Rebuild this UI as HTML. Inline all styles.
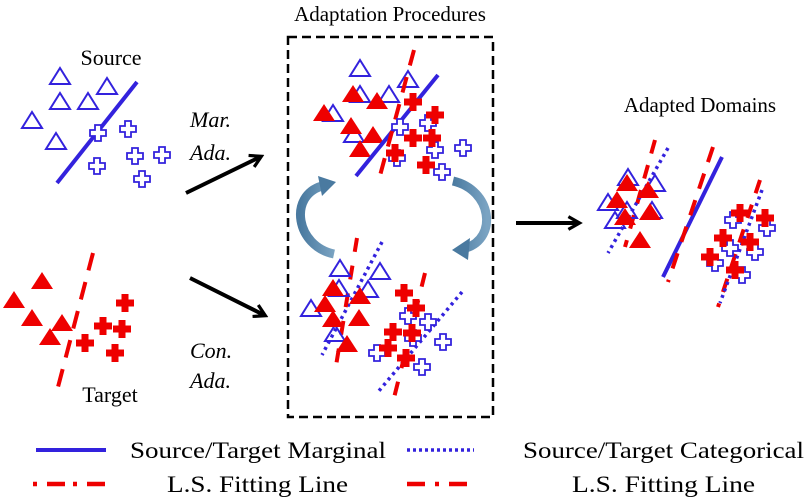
<!DOCTYPE html>
<html><head><meta charset="utf-8"><style>html,body{margin:0;padding:0;background:#fff}svg{display:block}</style></head>
<body>
<svg width="808" height="501" viewBox="0 0 808 501" xmlns="http://www.w3.org/2000/svg" font-family="Liberation Serif, serif">
<defs>
<g id="bt"><path d="M0,-8 L10,8 L-10,8 Z" fill="none" stroke="#3322dd" stroke-width="2"/></g>
<g id="rt"><path d="M0,-9 L11,8 L-11,8 Z" fill="#ee0000"/></g>
<g id="bc"><path d="M-3,-8 H3 V-3 H8 V3 H3 V8 H-3 V3 H-8 V-3 H-3 Z" fill="#fff" stroke="#3322dd" stroke-width="1.8"/></g>
<g id="rc"><path d="M-3.5,-9 H3.5 V-3.5 H9 V3.5 H3.5 V9 H-3.5 V3.5 H-9 V-3.5 H-3.5 Z" fill="#ee0000"/></g>
<marker id="ah" viewBox="0 0 10 10" refX="7" refY="5" markerWidth="4" markerHeight="4" orient="auto"><path d="M1,1 L8,5 L1,9" fill="none" stroke="#000" stroke-width="2"/></marker>
<linearGradient id="cg" x1="0" y1="0" x2="1" y2="0"><stop offset="0" stop-color="#4a7aa0"/><stop offset="1" stop-color="#7aa3c2"/></linearGradient>
</defs>

<!-- Source -->
<text x="111" y="65" font-size="22" text-anchor="middle">Source</text>
<use href="#bt" x="60" y="76"/><use href="#bt" x="107" y="86"/><use href="#bt" x="60" y="101"/><use href="#bt" x="88" y="101"/><use href="#bt" x="32" y="120"/><use href="#bt" x="56" y="141"/>
<line x1="137" y1="82" x2="57" y2="183" stroke="#3322dd" stroke-width="4"/>
<use href="#bc" x="98" y="133"/><use href="#bc" x="128" y="129"/><use href="#bc" x="135" y="156"/><use href="#bc" x="162" y="155"/><use href="#bc" x="97" y="166"/><use href="#bc" x="142" y="179"/>

<!-- Target -->
<use href="#rt" x="42" y="281"/><use href="#rt" x="14" y="300"/><use href="#rt" x="32" y="318"/><use href="#rt" x="62" y="323"/><use href="#rt" x="50" y="337"/>
<line x1="93" y1="253" x2="58" y2="387" stroke="#ee0000" stroke-width="4" stroke-dasharray="18,12"/>
<use href="#rc" x="125" y="303"/><use href="#rc" x="103" y="326"/><use href="#rc" x="122" y="329"/><use href="#rc" x="85" y="343"/><use href="#rc" x="115" y="353"/>
<text x="110" y="402" font-size="22" text-anchor="middle">Target</text>

<!-- arrows & labels -->
<text x="190" y="127" font-size="22" font-style="italic">Mar.</text>
<text x="190" y="160" font-size="22" font-style="italic">Ada.</text>
<line x1="186" y1="193" x2="260" y2="157" stroke="#000" stroke-width="4" marker-end="url(#ah)"/>
<line x1="190" y1="278" x2="264" y2="315" stroke="#000" stroke-width="4" marker-end="url(#ah)"/>
<text x="190" y="358" font-size="22" font-style="italic">Con.</text>
<text x="190" y="388" font-size="22" font-style="italic">Ada.</text>

<!-- middle box -->
<text x="390" y="21" font-size="21" text-anchor="middle">Adaptation Procedures</text>
<rect x="288" y="37" width="205" height="380" fill="none" stroke="#000" stroke-width="2.5" stroke-dasharray="9,5"/>

<use href="#bt" x="360" y="68"/><use href="#bt" x="408" y="79"/><use href="#bt" x="360" y="94"/><use href="#bt" x="389" y="94"/><use href="#bt" x="333" y="113"/><use href="#bt" x="354" y="134"/>
<use href="#rt" x="353" y="94"/><use href="#rt" x="377" y="101"/><use href="#rt" x="324" y="113"/><use href="#rt" x="351" y="126"/><use href="#rt" x="373" y="135"/><use href="#rt" x="360" y="149"/>
<line x1="438" y1="75" x2="356" y2="176" stroke="#3322dd" stroke-width="4"/>
<line x1="414" y1="50" x2="378" y2="183" stroke="#ee0000" stroke-width="4" stroke-dasharray="16,12"/>
<use href="#bc" x="400" y="127"/><use href="#bc" x="428" y="123"/><use href="#bc" x="435" y="150"/><use href="#bc" x="463" y="148"/><use href="#bc" x="397" y="158"/><use href="#bc" x="442" y="172"/>
<use href="#rc" x="413" y="102"/><use href="#rc" x="435" y="115"/><use href="#rc" x="413" y="138"/><use href="#rc" x="432" y="138"/><use href="#rc" x="395" y="153"/><use href="#rc" x="426" y="165"/>

<!-- cycle arrows -->
<path d="M334,254 C296,246 288,196 322,186" fill="none" stroke="url(#cg)" stroke-width="9"/>
<path d="M318,176 L336,182 L322,196 Z" fill="#4a7aa0"/>
<path d="M453,181 C492,190 498,238 466,248" fill="none" stroke="url(#cg)" stroke-width="9"/>
<path d="M470,238 L452,250 L468,260 Z" fill="#4a7aa0"/>

<!-- bottom cluster -->
<line x1="382" y1="242" x2="322" y2="355" stroke="#3322dd" stroke-width="3.5" stroke-dasharray="3,4"/>
<line x1="357" y1="238" x2="335" y2="372" stroke="#ee0000" stroke-width="4" stroke-dasharray="14,14"/>
<use href="#bt" x="340" y="268"/><use href="#bt" x="380" y="271"/><use href="#bt" x="368" y="289"/><use href="#bt" x="311" y="308"/><use href="#bt" x="335" y="333"/><use href="#bt" x="339" y="288"/>
<use href="#rt" x="333" y="288"/><use href="#rt" x="360" y="296"/><use href="#rt" x="325" y="304"/><use href="#rt" x="333" y="319"/><use href="#rt" x="359" y="318"/><use href="#rt" x="347" y="344"/>
<line x1="462" y1="292" x2="378" y2="392" stroke="#3322dd" stroke-width="3.5" stroke-dasharray="3,4"/>
<line x1="425" y1="273" x2="393" y2="402" stroke="#ee0000" stroke-width="4" stroke-dasharray="14,14"/>
<use href="#bc" x="408" y="316"/><use href="#bc" x="428" y="322"/><use href="#bc" x="413" y="338"/><use href="#bc" x="443" y="342"/><use href="#bc" x="377" y="353"/><use href="#bc" x="422" y="367"/>
<use href="#rc" x="404" y="293"/><use href="#rc" x="416" y="308"/><use href="#rc" x="393" y="332"/><use href="#rc" x="412" y="333"/><use href="#rc" x="388" y="348"/><use href="#rc" x="406" y="358"/>

<!-- big arrow -->
<line x1="516" y1="223" x2="578" y2="223" stroke="#000" stroke-width="4" marker-end="url(#ah)"/>

<!-- adapted -->
<text x="700" y="112" font-size="21" text-anchor="middle">Adapted Domains</text>
<line x1="655" y1="140" x2="625" y2="247" stroke="#ee0000" stroke-width="4" stroke-dasharray="14,12"/>
<line x1="668" y1="148" x2="608" y2="253" stroke="#3322dd" stroke-width="3.5" stroke-dasharray="3,4"/>
<use href="#bt" x="628" y="177"/><use href="#bt" x="655" y="183"/><use href="#bt" x="608" y="202"/><use href="#bt" x="627" y="210"/><use href="#bt" x="615" y="220"/><use href="#bt" x="652" y="210"/>
<use href="#rt" x="627" y="183"/><use href="#rt" x="648" y="190"/><use href="#rt" x="617" y="200"/><use href="#rt" x="650" y="212"/><use href="#rt" x="625" y="217"/><use href="#rt" x="640" y="240"/>
<line x1="722" y1="157" x2="663" y2="277" stroke="#3322dd" stroke-width="4"/>
<line x1="713" y1="147" x2="668" y2="282" stroke="#ee0000" stroke-width="4" stroke-dasharray="16,12"/>
<line x1="760" y1="180" x2="718" y2="307" stroke="#ee0000" stroke-width="4" stroke-dasharray="14,12"/>
<line x1="762" y1="190" x2="720" y2="303" stroke="#3322dd" stroke-width="3.5" stroke-dasharray="3,4"/>
<use href="#bc" x="733" y="220"/><use href="#bc" x="767" y="228"/><use href="#bc" x="730" y="248"/><use href="#bc" x="755" y="252"/><use href="#bc" x="715" y="263"/><use href="#bc" x="742" y="275"/>
<use href="#rc" x="740" y="213"/><use href="#rc" x="765" y="218"/><use href="#rc" x="723" y="238"/><use href="#rc" x="750" y="242"/><use href="#rc" x="710" y="257"/><use href="#rc" x="735" y="270"/>

<!-- legend -->
<line x1="36" y1="450" x2="106" y2="450" stroke="#3322dd" stroke-width="4"/>
<text x="130" y="458" font-size="23" textLength="256" lengthAdjust="spacingAndGlyphs">Source/Target Marginal</text>
<line x1="407" y1="450" x2="474" y2="450" stroke="#3322dd" stroke-width="3.5" stroke-dasharray="3,3"/>
<text x="523" y="458" font-size="23" textLength="281" lengthAdjust="spacingAndGlyphs">Source/Target Categorical</text>
<line x1="33" y1="484" x2="106" y2="484" stroke="#ee0000" stroke-width="4.5" stroke-dasharray="4,10,18,8"/>
<text x="167" y="492" font-size="23" textLength="181" lengthAdjust="spacingAndGlyphs">L.S. Fitting Line</text>
<line x1="407" y1="484" x2="471" y2="484" stroke="#ee0000" stroke-width="4.5" stroke-dasharray="18,10,4,10"/>
<text x="572" y="492" font-size="23" textLength="183" lengthAdjust="spacingAndGlyphs">L.S. Fitting Line</text>
</svg>
</body></html>
